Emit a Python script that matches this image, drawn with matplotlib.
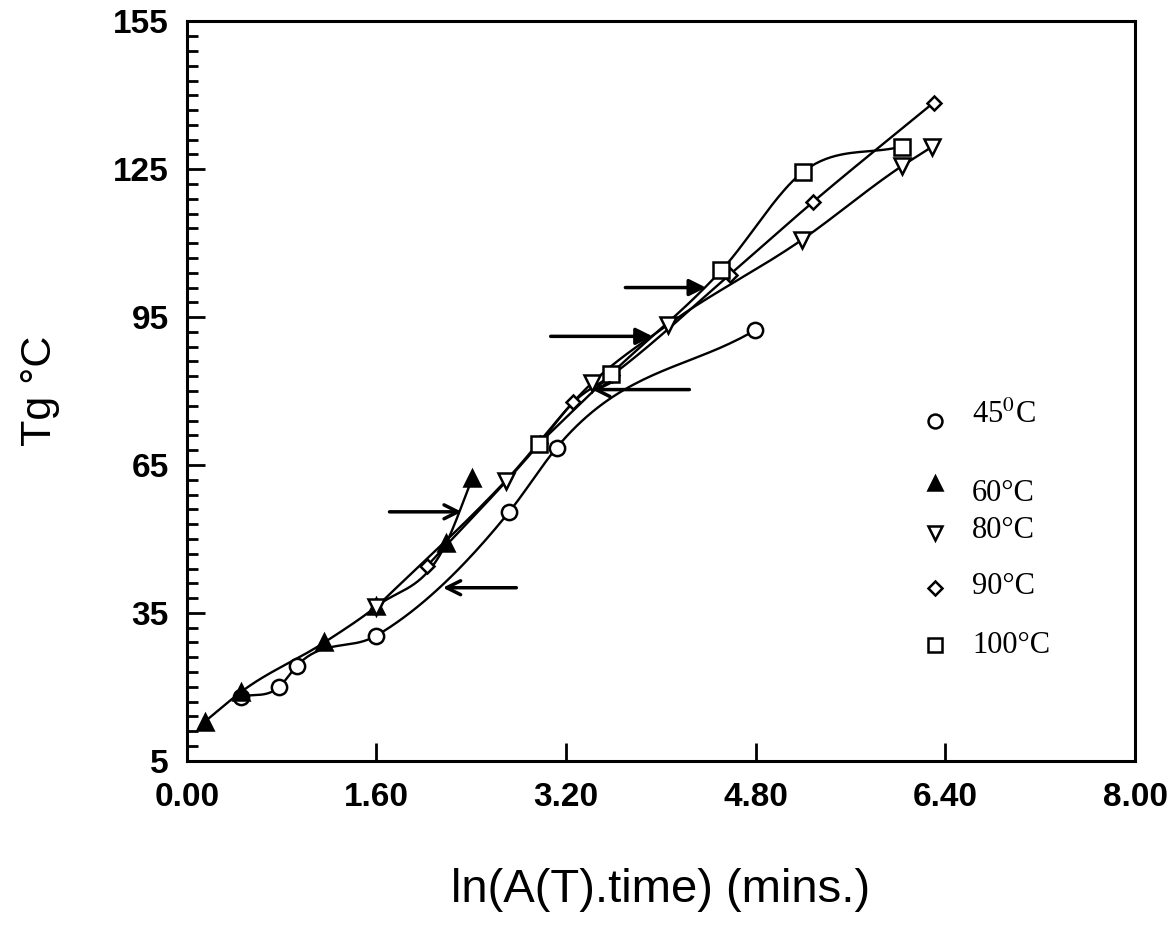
import numpy as np
import matplotlib.pyplot as plt

plt.rcParams['mathtext.fontset'] = 'stix'

# data
x45 = [0.46, 0.78, 0.93, 1.60, 2.72, 3.12, 4.79]
y45 = [18.0, 20.0, 24.3, 30.4, 55.5, 68.5, 92.3]
x60 = [0.15, 0.46, 1.16, 1.60, 2.19, 2.41]
y60 = [12.9, 19.0, 29.0, 36.3, 49.2, 62.4]
x80 = [1.60, 2.69, 3.42, 4.06, 5.19, 6.03, 6.29]
y80 = [36.2, 61.8, 81.7, 93.5, 110.7, 125.6, 129.6]
x90 = [2.03, 2.98, 3.26, 3.59, 4.58, 5.28, 6.30]
y90 = [44.6, 69.5, 77.7, 83.3, 103.6, 118.3, 138.5]
x100 = [2.97, 3.58, 4.51, 5.20, 6.03]
y100 = [69.3, 83.5, 104.5, 124.5, 129.6]

labels = ['45$^{0}$C', '60°C', '80°C', '90°C', '100°C']

# arrows: (x_tail, x_head, y)
arrows = [(1.71, 2.32, 55.5, '->'), (2.78, 2.16, 40.1, '->'),
          (3.07, 3.93, 91.1, '-|>'), (3.70, 4.38, 101.0, '-|>'),
          (4.24, 3.42, 80.3, '->')]


def smooth(x, y, n=40):
    # piecewise cubic hermite through the points (catmull-rom tangents)
    x = np.asarray(x, float)
    y = np.asarray(y, float)
    m = np.gradient(y, x)
    xs, ys = [], []
    for i in range(len(x) - 1):
        h = x[i + 1] - x[i]
        t = np.linspace(0, 1, n)
        h00 = 2 * t**3 - 3 * t**2 + 1
        h10 = t**3 - 2 * t**2 + t
        h01 = -2 * t**3 + 3 * t**2
        h11 = t**3 - t**2
        xs.append(x[i] + t * h)
        ys.append(h00 * y[i] + h10 * h * m[i] + h01 * y[i + 1] + h11 * h * m[i + 1])
    return np.concatenate(xs), np.concatenate(ys)


fig = plt.figure(figsize=(11.75, 9.3), dpi=100)
ax = fig.add_axes([0.159, 0.182, 0.807, 0.795])

series = [(x45, y45, 'o', 'white', 11),
          (x60, y60, '^', 'black', 11),
          (x80, y80, 'v', 'white', 11),
          (x90, y90, 'D', 'white', 7),
          (x100, y100, 's', 'white', 11)]

for xs, ys, mk, fc, ms in series:
    sx, sy = smooth(xs, ys)
    ax.plot(sx, sy, color='black', lw=1.7, zorder=2)
    ax.plot(xs, ys, linestyle='none', marker=mk, markersize=ms,
            markerfacecolor=fc, markeredgecolor='black', markeredgewidth=1.8, zorder=3)

for x0, x1, yy, st in arrows:
    ax.annotate('', xy=(x1, yy), xytext=(x0, yy),
                arrowprops=dict(arrowstyle=st, color='black', lw=2.5,
                                mutation_scale=25, shrinkA=0, shrinkB=0))

# legend drawn by hand
leg_my = [0.460, 0.375, 0.308, 0.233, 0.156]
leg_ty = [0.467, 0.362, 0.311, 0.236, 0.156]
for (xs, ys, mk, fc, ms), lab, my, ty in zip(series, labels, leg_my, leg_ty):
    ax.plot([0.789], [my], transform=ax.transAxes, marker=mk,
            markersize=10 if mk != 'D' else 7.5, markerfacecolor=fc,
            markeredgecolor='black', markeredgewidth=1.8, clip_on=False)
    ax.text(0.828, ty, lab, transform=ax.transAxes, fontsize=22,
            family='Liberation Serif', va='center', ha='left')

ax.set_xlim(0, 8)
ax.set_ylim(5, 155)
ax.set_xticks(np.arange(0, 8.01, 1.6))
ax.set_xticklabels(['0.00', '1.60', '3.20', '4.80', '6.40', '8.00'])
ax.set_yticks(np.arange(5, 156, 30))
ax.set_yticks(np.arange(5, 156, 3), minor=True)

ax.tick_params(axis='both', which='major', direction='in', length=13, width=2,
               labelsize=24, top=False, right=False)
ax.tick_params(axis='x', which='major', pad=15)
ax.tick_params(axis='y', which='major', pad=13)
ax.tick_params(axis='y', which='minor', direction='in', length=8, width=2, right=False)
for lab in ax.get_xticklabels() + ax.get_yticklabels():
    lab.set_family('Liberation Sans')
    lab.set_fontweight('bold')
for sp in ax.spines.values():
    sp.set_linewidth(2.2)

ax.set_xlabel('ln(A(T).time) (mins.)', fontsize=34, family='Liberation Sans', labelpad=40)
ax.set_ylabel('Tg °C', fontsize=31, family='Liberation Sans', labelpad=38)

fig.savefig('out.png', dpi=100)
